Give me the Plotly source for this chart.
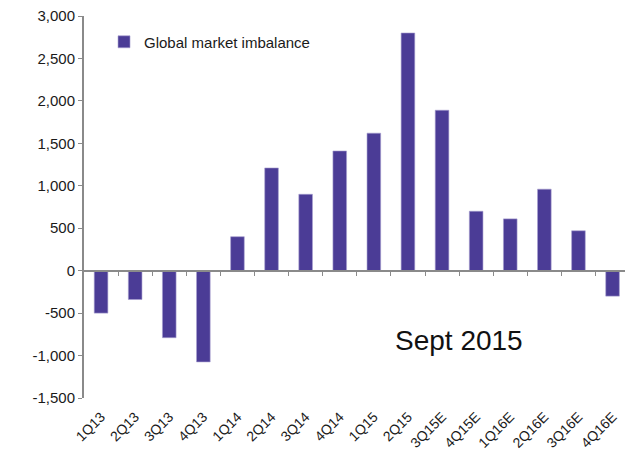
import plotly.graph_objects as go

categories = ["1Q13", "2Q13", "3Q13", "4Q13", "1Q14", "2Q14", "3Q14", "4Q14",
              "1Q15", "2Q15", "3Q15E", "4Q15E", "1Q16E", "2Q16E", "3Q16E", "4Q16E"]
imbalance = [-500, -340, -790, -1075, 400, 1210, 900, 1410,
             1620, 2800, 1890, 700, 610, 960, 470, -300]
ytick_vals = [-1500, -1000, -500, 0, 500, 1000, 1500, 2000, 2500, 3000]
ytick_text = ["-1,500", "-1,000", "-500", "0", "500", "1,000", "1,500", "2,000", "2,500", "3,000"]

BAR = "#4B3C96"
AXIS = "#8A8A8A"
FONT = "Liberation Sans, Arial, sans-serif"

idx = list(range(len(categories)))
boundaries = [i + 0.5 for i in idx[:-1]]
xr = [-0.5, 15.365]

fig = go.Figure()
fig.add_trace(go.Bar(
    x=idx, y=imbalance, name="Global market imbalance",
    marker=dict(color=BAR, line=dict(color="#A79FD0", width=0.6)),
    width=0.4,
))
fig.add_trace(go.Scatter(x=[], y=[], xaxis="x2", showlegend=False))

fig.update_layout(
    width=625, height=451,
    margin=dict(l=84, r=0, t=16, b=53, autoexpand=False),
    paper_bgcolor="white", plot_bgcolor="white",
    font=dict(family=FONT, size=15, color="#1a1a1a"),
    showlegend=True,
    legend=dict(x=0.037, y=0.975, xanchor="left", yanchor="top",
                bgcolor="rgba(0,0,0,0)", font=dict(size=15, color="#1a1a1a")),
    xaxis=dict(range=xr, tickmode="array", tickvals=idx, ticktext=categories,
               tickangle=-45, showline=False, showgrid=False, zeroline=False,
               ticks="", ticklabelstandoff=7, tickfont=dict(size=14),
               automargin=False),
    xaxis2=dict(range=xr, overlaying="x", anchor="free", position=1/3,
                tickmode="array", tickvals=boundaries, ticks="outside", ticklen=4,
                tickcolor=AXIS, tickwidth=1, showticklabels=False,
                showline=True, linecolor=AXIS, linewidth=2, showgrid=False,
                zeroline=False, automargin=False),
    yaxis=dict(range=[-1500, 3000], tickmode="array", tickvals=ytick_vals,
               ticktext=ytick_text, showline=True, linecolor=AXIS, linewidth=2,
               ticks="outside", ticklen=4, tickcolor=AXIS, tickwidth=1,
               showgrid=False, zeroline=False, tickfont=dict(size=15),
               automargin=False),
    bargap=0.6,
    annotations=[dict(text="Sept 2015", x=0.693, y=0.15, xref="paper", yref="paper",
                      xanchor="center", yanchor="middle", showarrow=False,
                      font=dict(size=28, color="#111111"))],
)

fig.write_html("out.html", config={"displayModeBar": False},
               post_script="document.body.style.margin='0';")
